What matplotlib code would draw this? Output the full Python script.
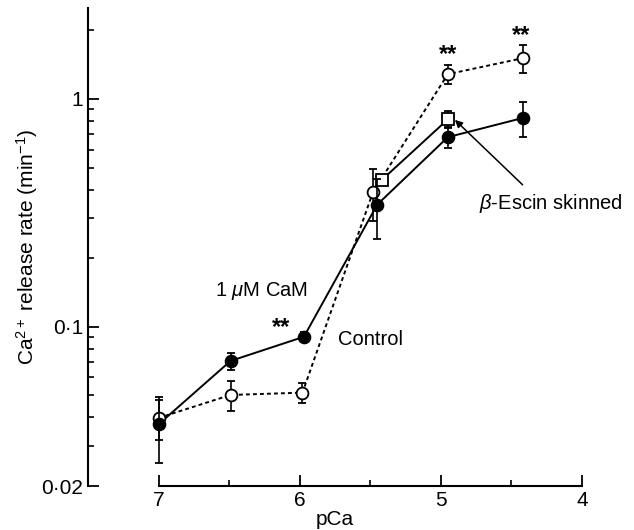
import numpy as np
import matplotlib
matplotlib.use("Agg")
import matplotlib.pyplot as plt

plt.rcParams['font.family'] = ['Liberation Sans', 'DejaVu Sans']
plt.rcParams['mathtext.fontset'] = 'custom'
plt.rcParams['mathtext.rm'] = 'Liberation Sans'
plt.rcParams['mathtext.it'] = 'Liberation Sans:italic'

# Daten
pca_cam = [7.0, 6.49, 5.97, 5.45, 4.95, 4.42]
rate_cam = [0.0373, 0.0708, 0.0904, 0.344, 0.68, 0.825]
err_cam = [0.012, 0.006, 0.004, 0.10, 0.07, 0.145]

pca_ctrl = [7.0, 6.49, 5.98, 5.48, 4.95, 4.42]
rate_ctrl = [0.0398, 0.0502, 0.0514, 0.391, 1.285, 1.51]
err_ctrl = [0.008, 0.0075, 0.005, 0.10, 0.125, 0.21]

pca_escin = [5.42, 4.95]
rate_escin = [0.44, 0.814]
err_escin = [0.02, 0.07]

# Signifikanz-Sterne (x, y)
stern_x = [6.13, 4.95, 4.43]
stern_y = [0.099, 1.57, 1.90]

fig = plt.figure(figsize=(6.34, 5.3), dpi=100)
ax = fig.add_axes([0.1388, 0.083, 0.779, 0.902])

# Control (offen, gepunktet)
ax.errorbar(pca_ctrl, rate_ctrl, yerr=err_ctrl, fmt='o', color='black',
            mfc='white', mec='black', ms=8.5, mew=1.3, elinewidth=1.2,
            capsize=2.8, capthick=1.2, zorder=3)
ax.plot(pca_ctrl, rate_ctrl, color='black', lw=1.4, ls=(0, (2, 1.6)), zorder=2)

# beta-Escin (Quadrate)
ax.errorbar(pca_escin, rate_escin, yerr=err_escin, fmt='s', color='black',
            mfc='white', mec='black', ms=8.0, mew=1.3, elinewidth=1.2,
            capsize=2.8, capthick=1.2, zorder=3)
ax.plot(pca_escin, rate_escin, color='black', lw=1.4, zorder=2)

# 1 uM CaM (gefuellt, durchgezogen)
ax.errorbar(pca_cam, rate_cam, yerr=err_cam, fmt='o', color='black',
            mfc='black', mec='black', ms=8.5, mew=1.3, elinewidth=1.2,
            capsize=2.8, capthick=1.2, zorder=4)
ax.plot(pca_cam, rate_cam, color='black', lw=1.4, zorder=2)

for sx, sy in zip(stern_x, stern_y):
    ax.text(sx, sy, '**', ha='center', va='center', fontsize=17, fontweight='bold')

ax.text(6.27, 0.143, '1 $\\mu$M CaM', ha='center', va='center', fontsize=14.5)
ax.text(5.5, 0.0875, 'Control', ha='center', va='center', fontsize=14.5)
ax.text(4.22, 0.348, '$\\beta$-Escin skinned', ha='center', va='center', fontsize=14.5)
ax.annotate('', xy=(4.90, 0.81), xytext=(4.42, 0.42),
            arrowprops=dict(arrowstyle='-|>', color='black', lw=1.1,
                            mutation_scale=11, shrinkA=0, shrinkB=0))

ax.set_yscale('log')
ax.set_ylim(0.02, 2.51)
ax.set_xlim(7.5, 4.0)

ax.set_yticks([0.02, 0.1, 1])
ax.set_yticklabels(['0·02', '0·1', '1'])
ax.set_yticks([0.03, 0.04, 0.05, 0.06, 0.07, 0.08, 0.09,
               0.2, 0.3, 0.4, 0.5, 0.6, 0.7, 0.8, 0.9, 2], minor=True)
ax.yaxis.set_minor_formatter(matplotlib.ticker.NullFormatter())

ax.set_xticks([7, 6, 5, 4])
ax.set_xticklabels(['7', '6', '5', '4'])
ax.set_xticks([6.5, 5.5, 4.5], minor=True)

ax.tick_params(which='major', direction='in', length=8, width=1.3, labelsize=15)
ax.tick_params(which='minor', direction='in', length=4.5, width=1.2)

for s in ['top', 'right']:
    ax.spines[s].set_visible(False)
ax.spines['left'].set_linewidth(1.5)
ax.spines['bottom'].set_linewidth(1.5)
ax.spines['bottom'].set_bounds(7, 4)

ax.set_xlabel('pCa', fontsize=15, labelpad=0)
ax.set_ylabel('Ca$^{2+}$ release rate (min$^{-1}$)', fontsize=15, labelpad=1)

fig.savefig('out.png', dpi=100)
